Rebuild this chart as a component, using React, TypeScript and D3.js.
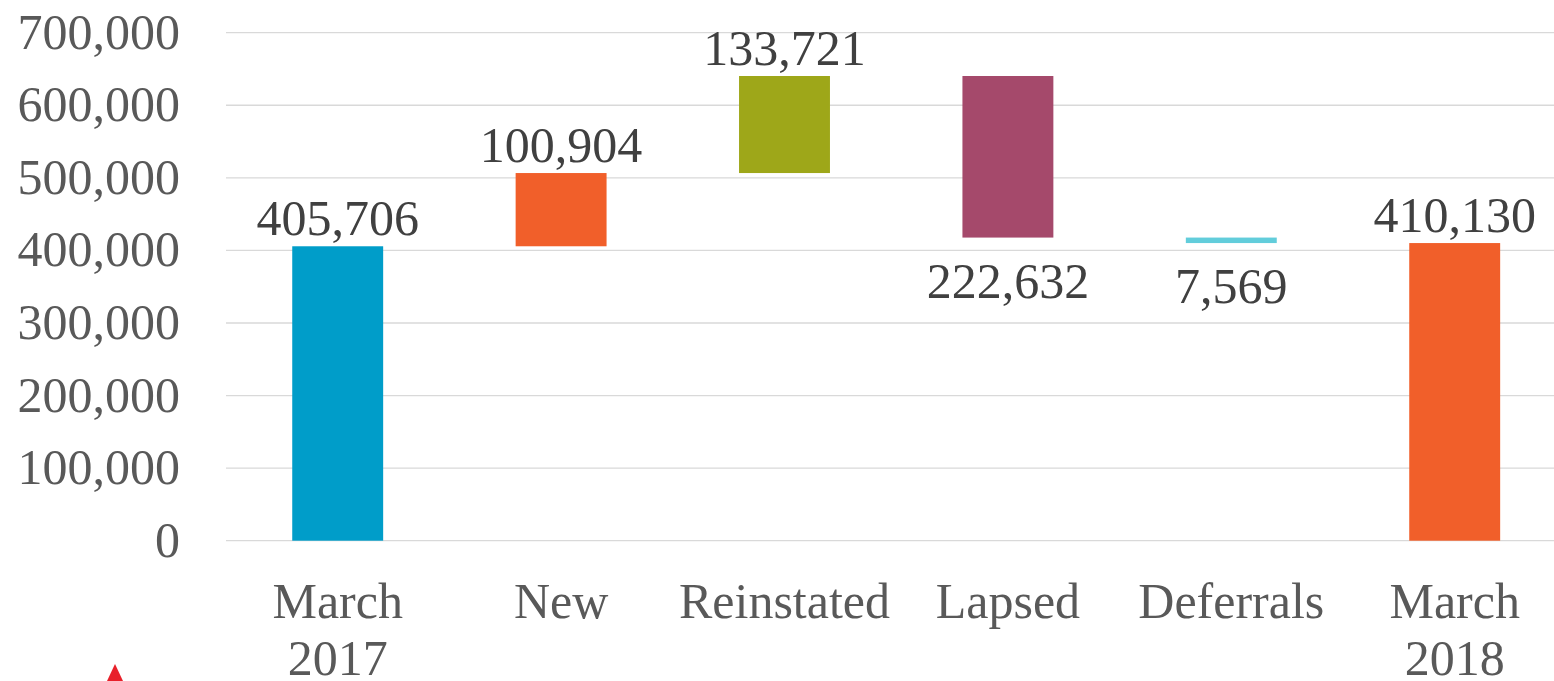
import React from "react";
import * as d3 from "d3";

const categories = ["March 2017", "New", "Reinstated", "Lapsed", "Deferrals", "March 2018"];
const categoryLines = [["March", "2017"], ["New"], ["Reinstated"], ["Lapsed"], ["Deferrals"], ["March", "2018"]];
const values = [405706, 100904, 133721, -222632, -7569, 410130];
const isTotal = [true, false, false, false, false, true];
const barColors = ["#009DC9", "#F15F2A", "#9EA719", "#A5496B", "#62CDDB", "#F15F2A"];
const yTicks = [0, 100000, 200000, 300000, 400000, 500000, 600000, 700000];

const W = 1554;
const H = 681;
const FONT = "'Liberation Serif', 'Times New Roman', serif";
const FS = 50;

export default function App() {
  const x = d3
    .scaleBand<string>()
    .domain(categories)
    .range([226, 226 + 6 * 223.4])
    .paddingInner(0.593)
    .paddingOuter(0.2965);
  const y = d3.scaleLinear().domain([0, 700000]).range([540.7, 32.7]);
  const fmt = d3.format(",");

  let running = 0;
  const bars = categories.map((c, i) => {
    const v = values[i];
    let lo: number, hi: number;
    if (isTotal[i]) {
      lo = 0;
      hi = v;
      running = v;
    } else {
      const start = running;
      running = running + v;
      lo = Math.min(start, running);
      hi = Math.max(start, running);
    }
    return { c, v, lo, hi, color: barColors[i], neg: !isTotal[i] && v < 0 };
  });

  return (
    <svg
      width={W}
      height={H}
      style={{ position: "absolute", left: 0, top: 0, display: "block", background: "#fff" }}
    >
      {yTicks.map((t) => (
        <g key={t}>
          <line x1={226} x2={W} y1={y(t)} y2={y(t)} stroke="#d9d9d9" strokeWidth={1.3} />
          <text
            x={180}
            y={y(t) + 16}
            textAnchor="end"
            fontFamily={FONT}
            fontSize={FS}
            fill="#595959"
          >
            {fmt(t)}
          </text>
        </g>
      ))}
      {bars.map((b) => {
        const bx = x(b.c)!;
        const bw = x.bandwidth();
        const cx = bx + bw / 2;
        return (
          <g key={b.c}>
            <rect x={bx} y={y(b.hi)} width={bw} height={y(b.lo) - y(b.hi)} fill={b.color} />
            <text
              x={cx}
              y={b.neg ? y(b.lo) + 60 : y(b.hi) - 11}
              textAnchor="middle"
              fontFamily={FONT}
              fontSize={FS}
              fill="#404040"
            >
              {fmt(Math.abs(b.v))}
            </text>
          </g>
        );
      })}
      {categories.map((c, i) => (
        <text
          key={c}
          x={x(c)! + x.bandwidth() / 2}
          y={618}
          textAnchor="middle"
          fontFamily={FONT}
          fontSize={FS}
          fill="#595959"
        >
          {categoryLines[i].map((line, j) => (
            <tspan key={j} x={x(c)! + x.bandwidth() / 2} dy={j === 0 ? 0 : 57}>
              {line}
            </tspan>
          ))}
        </text>
      ))}
      <polygon points="115,664 107,681 123,681" fill="#E8202A" />
    </svg>
  );
}
